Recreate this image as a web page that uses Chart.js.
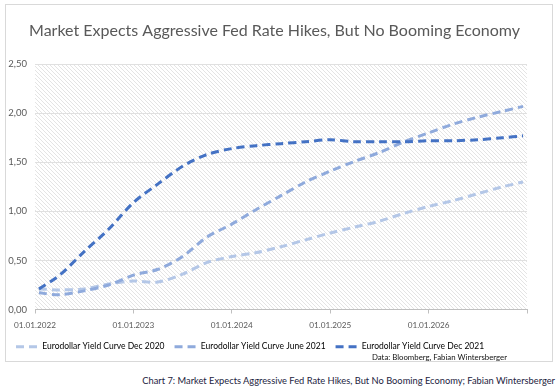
<!DOCTYPE html>
<html>
<head>
<meta charset="utf-8">
<script src="https://cdn.jsdelivr.net/npm/chart.js@4/dist/chart.umd.min.js"></script>
<style>
  body { margin: 0; background: #fff; width: 560px; height: 392px; position: relative; overflow: hidden; }
  #frame { position: absolute; left: 5px; top: 4px; width: 548px; height: 358px; border: 1px solid #d9d9d9; box-sizing: border-box; }
  #caption { position: absolute; right: 5px; top: 375px; font: 9.3px Lato, "Open Sans", sans-serif; color: #1c2340; white-space: nowrap; }
</style>
</head>
<body>
<div id="frame"><canvas id="myChart" width="546" height="356"></canvas></div>
<div id="caption">Chart 7: Market Expects Aggressive Fed Rate Hikes, But No Booming Economy; Fabian Wintersberger</div>
<script>
// decimal years (quarterly readings)
let dates = [2022.04, 2022.25, 2022.5, 2022.75, 2023.0, 2023.25, 2023.5, 2023.75, 2024.0, 2024.25, 2024.5,
             2024.75, 2025.0, 2025.25, 2025.5, 2025.75, 2026.0, 2026.25, 2026.5, 2026.75, 2026.96];
let dec2020 = [0.21, 0.20, 0.21, 0.26, 0.29, 0.28, 0.36, 0.48, 0.54, 0.58, 0.64,
               0.71, 0.78, 0.84, 0.90, 0.98, 1.05, 1.11, 1.18, 1.25, 1.30];
let jun2021 = [0.17, 0.15, 0.19, 0.25, 0.35, 0.41, 0.54, 0.74, 0.87, 1.02, 1.16,
               1.30, 1.41, 1.51, 1.60, 1.71, 1.80, 1.89, 1.96, 2.02, 2.07];
let dec2021 = [0.21, 0.35, 0.59, 0.82, 1.09, 1.28, 1.46, 1.58, 1.64, 1.67, 1.69,
               1.71, 1.73, 1.71, 1.71, 1.71, 1.72, 1.72, 1.73, 1.75, 1.77];
let seriesNames = ['Eurodollar Yield Curve Dec 2020', 'Eurodollar Yield Curve June 2021', 'Eurodollar Yield Curve Dec 2021'];
let xTickYears = [2022, 2023, 2024, 2025, 2026, 2027];
let yTicks = [0, 0.5, 1, 1.5, 2, 2.5];
let sourceNote = 'Data: Bloomberg, Fabian Wintersberger';

let colors = ['rgb(180, 199, 231)', 'rgb(143, 170, 220)', 'rgb(68, 114, 196)'];
let font = 'Lato';

function toPoints(arr) {
    return arr.map((v, i) => ({x: dates[i], y: v}));
}

// diagonal hatch for the plot area
let hatch = (function(){
    let c = document.createElement('canvas');
    c.width = 4; c.height = 4;
    let g = c.getContext('2d');
    g.fillStyle = '#fff';
    g.fillRect(0, 0, 4, 4);
    g.strokeStyle = '#e4e4e4';
    g.lineWidth = 1;
    g.beginPath();
    g.moveTo(0, 0); g.lineTo(4, 4);
    g.moveTo(-1, 3); g.lineTo(1, 5);
    g.moveTo(3, -1); g.lineTo(5, 1);
    g.stroke();
    return c;
})();

const areaBg = {
    id: 'areaBg',
    beforeDraw(chart) {
        const a = chart.chartArea, ctx = chart.ctx;
        ctx.save();
        ctx.fillStyle = ctx.createPattern(hatch, 'repeat');
        ctx.fillRect(a.left, a.top, a.right - a.left, a.bottom - a.top);
        ctx.restore();
    }
};

// source line under the legend
const sourceText = {
    id: 'sourceText',
    afterDraw(chart) {
        const ctx = chart.ctx;
        ctx.save();
        ctx.font = '7.8px ' + font;
        ctx.fillStyle = '#111';
        ctx.textAlign = 'right';
        ctx.textBaseline = 'middle';
        ctx.fillText(sourceNote, chart.chartArea.right - 20, chart.height - 4);
        ctx.restore();
    }
};

let datasets = [dec2020, jun2021, dec2021].map((arr, i) => ({
    label: seriesNames[i],
    data: toPoints(arr),
    borderColor: colors[i],
    backgroundColor: colors[i],
    borderWidth: 3,
    borderDash: [8, 5],
    pointRadius: 0,
    tension: 0.3,
    order: 3 - i
}));

var ctx = document.getElementById("myChart").getContext("2d");
let myChart = new Chart(ctx, {
    type: 'line',
    data: { datasets: datasets },
    plugins: [areaBg, sourceText],
    options: {
        responsive: false,
        animation: false,
        layout: { padding: { left: 0, right: 9, top: 0, bottom: 0 } },
        scales: {
            x: {
                type: 'linear',
                min: 2022,
                max: 2027,
                afterBuildTicks: (scale) => { scale.ticks = xTickYears.map(v => ({value: v})); },
                afterFit: (scale) => { scale.height = 23; },
                ticks: {
                    color: '#595959',
                    font: { family: font, size: 8.2 },
                    padding: 7,
                    maxRotation: 0,
                    autoSkip: false,
                    callback: (v) => v < 2027 ? '01.01.' + v : ''
                },
                grid: { drawOnChartArea: false, drawTicks: true, tickLength: 4, color: '#bfbfbf' },
                border: { display: true, color: '#bfbfbf' }
            },
            y: {
                min: 0,
                max: 2.5,
                afterBuildTicks: (scale) => { scale.ticks = yTicks.map(v => ({value: v})); },
                afterFit: (scale) => { scale.width = 29; },
                ticks: {
                    color: '#595959',
                    font: { family: font, size: 9.5 },
                    padding: 8,
                    callback: (v) => v.toFixed(2).replace('.', ',')
                },
                grid: { color: '#e0e0e0', drawTicks: false },
                border: { display: false }
            },
            // empty right-hand gutter so the plot ends where the original does
            gutter: {
                position: 'right',
                min: 0,
                max: 2.5,
                afterFit: (scale) => { scale.width = 16; },
                ticks: { display: false },
                grid: { display: false },
                border: { display: false }
            }
        },
        plugins: {
            title: {
                display: true,
                text: 'Market Expects Aggressive Fed Rate Hikes, But No Booming Economy',
                color: '#595959',
                font: { family: font, size: 16, weight: 'normal' },
                padding: { top: 16, bottom: 24 }
            },
            legend: {
                display: true,
                position: 'bottom',
                align: 'start',
                labels: {
                    color: '#595959',
                    font: { family: font, size: 8.5 },
                    usePointStyle: true,
                    pointStyle: 'line',
                    pointStyleWidth: 22,
                    boxHeight: 8,
                    padding: 10,
                    generateLabels: (chart) => chart.data.datasets.map((d, i) => ({
                        text: d.label,
                        fillStyle: d.borderColor,
                        strokeStyle: d.borderColor,
                        lineWidth: 3,
                        lineDash: [8, 5],
                        pointStyle: 'line',
                        datasetIndex: i
                    }))
                }
            },
            tooltip: { enabled: false }
        }
    }
});
</script>
</body>
</html>
